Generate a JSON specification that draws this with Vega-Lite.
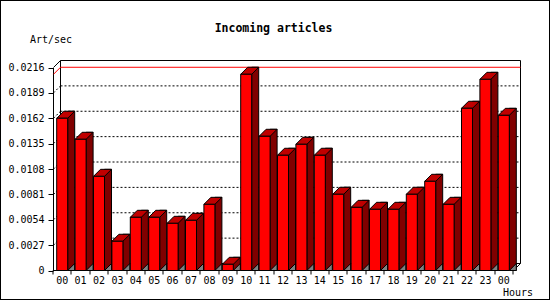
{
  "$schema": "https://vega.github.io/schema/vega-lite/v6.json",
  "width": 550,
  "height": 300,
  "autosize": "none",
  "padding": 0,
  "background": "white",
  "config": {
    "view": {"stroke": "black", "strokeWidth": 2, "fill": "white"},
    "font": "DejaVu Sans Mono"
  },
  "title": {
    "text": "Incoming articles",
    "font": "DejaVu Sans Mono",
    "fontSize": 11.5,
    "fontWeight": "bold",
    "color": "black",
    "anchor": "middle",
    "frame": "group",
    "baseline": "middle",
    "offset": -40,
    "dx": -1.5
  },
  "resolve": {"axis": {"x": "independent", "y": "independent"}},
  "data": {
    "values": [
      {"h": "00", "v": 0.0162},
      {"h": "01", "v": 0.01396},
      {"h": "02", "v": 0.01002},
      {"h": "03", "v": 0.00311},
      {"h": "04", "v": 0.00566},
      {"h": "05", "v": 0.00566},
      {"h": "06", "v": 0.00502},
      {"h": "07", "v": 0.00534},
      {"h": "08", "v": 0.00704},
      {"h": "09", "v": 0.00066},
      {"h": "10", "v": 0.02088},
      {"h": "11", "v": 0.01428},
      {"h": "12", "v": 0.01226},
      {"h": "13", "v": 0.01343},
      {"h": "14", "v": 0.01226},
      {"h": "15", "v": 0.00811},
      {"h": "16", "v": 0.00672},
      {"h": "17", "v": 0.00651},
      {"h": "18", "v": 0.00651},
      {"h": "19", "v": 0.00811},
      {"h": "20", "v": 0.00949},
      {"h": "21", "v": 0.00704},
      {"h": "22", "v": 0.01726},
      {"h": "23", "v": 0.02034},
      {"h": "24", "v": 0.01651}
    ]
  },
  "layer": [
    {
      "data": {"values": [{}]},
      "mark": {"type": "rect", "filled": false, "stroke": "black", "strokeWidth": 1, "xOffset": 7.5, "x2Offset": 7.5, "yOffset": -7, "y2Offset": -7},
      "encoding": {
        "x": {"datum": "00", "type": "ordinal", "bandPosition": 0, "axis": null},
        "x2": {"datum": "24", "bandPosition": 1},
        "y": {"datum": 0, "type": "quantitative", "axis": null},
        "y2": {"datum": 0.0216}
      }
    },
    {
      "data": {"values": [{"g": 0.0027}, {"g": 0.0054}, {"g": 0.0081}, {"g": 0.0108}, {"g": 0.0135}, {"g": 0.0162}, {"g": 0.0189}]},
      "mark": {"type": "rule", "stroke": "black", "strokeWidth": 1, "strokeDash": [2, 2], "xOffset": 7.5, "x2Offset": 7.5, "yOffset": -7, "y2Offset": -7},
      "encoding": {
        "x": {"datum": "00", "type": "ordinal", "bandPosition": 0, "axis": null},
        "x2": {"datum": "24", "bandPosition": 1},
        "y": {"field": "g", "type": "quantitative", "axis": null},
        "y2": {"field": "g"}
      }
    },
    {
      "data": {"values": [{"g": 0.0027}, {"g": 0.0054}, {"g": 0.0081}, {"g": 0.0108}, {"g": 0.0135}, {"g": 0.0162}, {"g": 0.0189}]},
      "mark": {"type": "rule", "stroke": "black", "strokeWidth": 1, "strokeDash": [2, 2], "xOffset": 0.5, "x2Offset": 7.5, "yOffset": 0, "y2Offset": -7},
      "encoding": {
        "x": {"datum": "00", "type": "ordinal", "bandPosition": 0, "axis": null},
        "x2": {"datum": "00", "bandPosition": 0},
        "y": {"field": "g", "type": "quantitative", "axis": null},
        "y2": {"field": "g"}
      }
    },
    {
      "transform": [{"aggregate": [{"op": "max", "field": "v", "as": "m"}]}],
      "mark": {"type": "rule", "stroke": "#FF0000", "strokeWidth": 1, "xOffset": 7.5, "x2Offset": 7.5, "yOffset": -7, "y2Offset": -7},
      "encoding": {
        "x": {"datum": "00", "type": "ordinal", "bandPosition": 0, "axis": null},
        "x2": {"datum": "24", "bandPosition": 1},
        "y": {"field": "m", "type": "quantitative", "axis": null},
        "y2": {"field": "m"}
      }
    },
    {
      "transform": [{"aggregate": [{"op": "max", "field": "v", "as": "m"}]}],
      "mark": {"type": "rule", "stroke": "#FF0000", "strokeWidth": 1, "xOffset": 0.5, "x2Offset": 7.5, "yOffset": 0, "y2Offset": -7},
      "encoding": {
        "x": {"datum": "00", "type": "ordinal", "bandPosition": 0, "axis": null},
        "x2": {"datum": "00", "bandPosition": 0},
        "y": {"field": "m", "type": "quantitative", "axis": null},
        "y2": {"field": "m"}
      }
    },
    {
      "data": {"values": [{}]},
      "mark": {"type": "rule", "stroke": "black", "strokeWidth": 1, "xOffset": 0.5, "x2Offset": 7.5, "yOffset": 0, "y2Offset": -7},
      "encoding": {
        "x": {"datum": "00", "type": "ordinal", "bandPosition": 0, "axis": null},
        "x2": {"datum": "00", "bandPosition": 0},
        "y": {"datum": 0.0216, "type": "quantitative", "axis": null},
        "y2": {"datum": 0.0216}
      }
    },
    {
      "data": {"values": [{}]},
      "mark": {"type": "rule", "stroke": "black", "strokeWidth": 1, "xOffset": 0.5, "x2Offset": 7.5, "yOffset": 0, "y2Offset": -7},
      "encoding": {
        "x": {"datum": "24", "type": "ordinal", "bandPosition": 1, "axis": null},
        "x2": {"datum": "24", "bandPosition": 1},
        "y": {"datum": 0, "type": "quantitative", "axis": null},
        "y2": {"datum": 0}
      }
    },
    {
      "mark": {"type": "bar", "width": 7, "xOffset": 9, "yOffset": -7, "y2Offset": 0, "fill": "#800000", "stroke": "black", "strokeWidth": 1},
      "encoding": {
        "x": {"field": "h", "type": "ordinal", "axis": null},
        "y": {"field": "v", "type": "quantitative", "axis": null},
        "y2": {"datum": 0}
      }
    },
    {
      "mark": {"type": "point", "shape": "M -5.5 0 L 1.5 -7 L 12.5 -7 L 5.5 0 Z", "size": 4, "filled": true, "fill": "#C00000", "stroke": "black", "strokeWidth": 1, "opacity": 1},
      "encoding": {
        "x": {"field": "h", "type": "ordinal", "axis": null},
        "y": {"field": "v", "type": "quantitative", "axis": null}
      }
    },
    {
      "mark": {"type": "point", "shape": "M 5.5 0 L 12.5 -7 L 12.5 0 Z", "size": 4, "filled": true, "fill": "#808080", "stroke": "black", "strokeWidth": 1, "opacity": 1},
      "encoding": {
        "x": {"field": "h", "type": "ordinal", "axis": null},
        "y": {"datum": 0, "type": "quantitative", "axis": null}
      }
    },
    {
      "mark": {"type": "bar", "width": 11, "fill": "#FF0000", "stroke": "black", "strokeWidth": 1},
      "encoding": {
        "x": {
          "field": "h",
          "type": "ordinal",
          "scale": {
            "domain": ["00","01","02","03","04","05","06","07","08","09","10","11","12","13","14","15","16","17","18","19","20","21","22","23","24"],
            "range": [53, 513],
            "paddingInner": 0,
            "paddingOuter": 0
          },
          "axis": {
            "orient": "bottom",
            "title": "Hours",
            "titleX": 533,
            "titleY": 22,
            "titleAlign": "right",
            "titleBaseline": "middle",
            "titleFont": "DejaVu Sans Mono",
            "titleFontSize": 10,
            "titleFontWeight": "normal",
            "titleColor": "black",
            "labelAngle": 0,
            "labelFont": "DejaVu Sans Mono",
            "labelFontSize": 10,
            "labelColor": "black",
            "labelPadding": 1,
            "labelExpr": "datum.value == '24' ? '00' : datum.value",
            "tickSize": 4,
            "tickColor": "black",
            "domainColor": "black",
            "tickBand": "extent",
            "offset": -29.5,
            "translate": 0,
            "grid": false
          }
        },
        "y": {
          "field": "v",
          "type": "quantitative",
          "scale": {"domain": [0, 0.0216], "range": [270.5, 67.5], "nice": false, "zero": true},
          "axis": {
            "orient": "left",
            "title": "Art/sec",
            "titleAngle": 0,
            "titleX": -23.5,
            "titleY": 39,
            "titleAlign": "left",
            "titleBaseline": "middle",
            "titleFont": "DejaVu Sans Mono",
            "titleFontSize": 10,
            "titleFontWeight": "normal",
            "titleColor": "black",
            "values": [0, 0.0027, 0.0054, 0.0081, 0.0108, 0.0135, 0.0162, 0.0189, 0.0216],
            "labelExpr": "datum.value == 0 ? '0' : format(datum.value, '.4f')",
            "labelFont": "DejaVu Sans Mono",
            "labelFontSize": 10,
            "labelColor": "black",
            "labelPadding": 4,
            "tickSize": 5,
            "tickColor": "black",
            "domainColor": "black",
            "offset": -53,
            "grid": false
          }
        }
      }
    }
  ]
}
